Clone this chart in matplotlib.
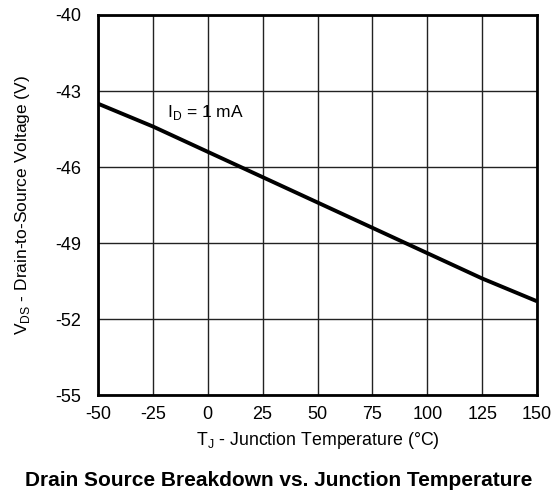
import matplotlib
matplotlib.use("Agg")
import matplotlib.pyplot as plt

plt.rcParams['font.family'] = ['Liberation Sans', 'DejaVu Sans']
plt.rcParams['mathtext.fontset'] = 'custom'
plt.rcParams['mathtext.rm'] = 'Liberation Sans'
plt.rcParams['axes.unicode_minus'] = False

# junction temperature (C) and breakdown voltage (V)
temp = [-50, -25, 0, 25, 50, 75, 100, 125, 150]
vds = [-43.5, -44.4, -45.4, -46.4, -47.4, -48.4, -49.4, -50.4, -51.3]
xticks = [-50, -25, 0, 25, 50, 75, 100, 125, 150]
yticks = [-55, -52, -49, -46, -43, -40]

fig = plt.figure(figsize=(5.58, 4.95), dpi=100)
ax = fig.add_axes([0.1756, 0.202, 0.7868, 0.7677])

ax.plot(temp, vds, color='black', linewidth=2.8, solid_capstyle='butt')
ax.set_xlim(-50, 150)
ax.set_ylim(-55, -40)
ax.set_xticks(xticks)
ax.set_yticks(yticks)
ax.grid(True, color='#222222', linewidth=1.0)
ax.set_axisbelow(True)
ax.tick_params(length=0, labelsize=13)
ax.tick_params(axis='y', pad=12)
ax.tick_params(axis='x', pad=8)
for s in ax.spines.values():
	s.set_linewidth(2)
	s.set_color('black')

ax.text(-18.5, -43.85, r'I$_\mathregular{D}$ = 1 mA', fontsize=12.5, va='center', ha='left')

ax.set_xlabel(r'T$_\mathregular{J}$ - Junction Temperature (°C)', fontsize=12.8, labelpad=5)
ax.set_ylabel(r'V$_\mathregular{DS}$ - Drain-to-Source Voltage (V)', fontsize=12.5, labelpad=17)

fig.text(0.5, 0.03, 'Drain Source Breakdown vs. Junction Temperature', ha='center', va='center',
	fontsize=15, fontweight='bold')

fig.savefig('out.png', dpi=100)
